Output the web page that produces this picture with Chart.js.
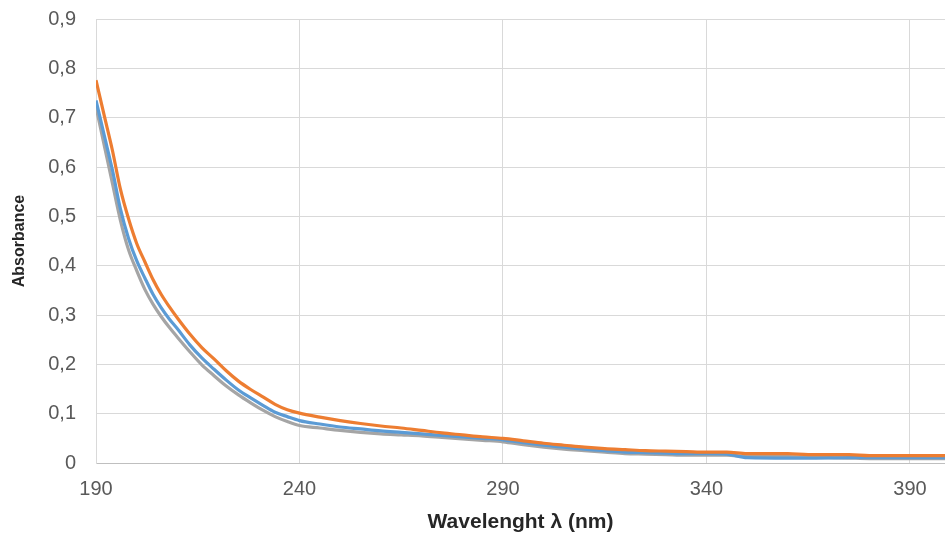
<!DOCTYPE html>
<html>
<head>
<meta charset="utf-8">
<script src="https://cdn.jsdelivr.net/npm/chart.js@4.4.1/dist/chart.umd.min.js"></script>
<style>
  body { margin: 0; background: #fff; }
  #wrap { width: 945px; height: 536px; position: relative; }
</style>
</head>
<body>
<div id="wrap"><canvas id="absChart"></canvas></div>
<script>
// wavelengths (nm)
const wavelengths = [190, 192, 194, 196, 198, 200, 202, 204, 206, 208, 210, 213, 216, 219, 222, 225, 228, 231, 234, 237, 240,
  245, 250, 255, 260, 265, 270, 275, 280, 285, 290, 295, 300, 305, 310, 315, 320, 325, 330, 335, 340, 345, 350, 360, 365, 375, 380, 398.6];

const orangeVals = [0.776, 0.705, 0.635, 0.555, 0.495, 0.445, 0.408, 0.372, 0.342, 0.317, 0.294, 0.262, 0.234, 0.211, 0.187, 0.166, 0.149, 0.134, 0.119, 0.108, 0.101,
  0.093, 0.086, 0.080, 0.075, 0.071, 0.066, 0.061, 0.057, 0.053, 0.050, 0.045, 0.040, 0.036, 0.032, 0.029, 0.027, 0.025, 0.024, 0.023, 0.022, 0.022, 0.019, 0.019, 0.017, 0.017, 0.015, 0.015];

const blueVals = [0.735, 0.665, 0.595, 0.515, 0.455, 0.41, 0.375, 0.342, 0.315, 0.292, 0.272, 0.24, 0.213, 0.19, 0.168, 0.148, 0.132, 0.117, 0.103, 0.094, 0.086,
  0.079, 0.073, 0.069, 0.065, 0.062, 0.059, 0.056, 0.053, 0.050, 0.047, 0.041, 0.036, 0.032, 0.028, 0.025, 0.022, 0.021, 0.020, 0.019, 0.019, 0.018, 0.011, 0.010, 0.010, 0.011, 0.011, 0.011];

const grayVals = [0.722, 0.645, 0.568, 0.492, 0.432, 0.39, 0.352, 0.322, 0.297, 0.275, 0.255, 0.226, 0.199, 0.177, 0.156, 0.138, 0.122, 0.107, 0.094, 0.084, 0.076,
  0.071, 0.066, 0.062, 0.059, 0.057, 0.055, 0.052, 0.049, 0.046, 0.043, 0.037, 0.032, 0.028, 0.025, 0.022, 0.019, 0.018, 0.017, 0.016, 0.016, 0.016, 0.013, 0.013, 0.012, 0.010, 0.009, 0.009];

const xTicks = [190, 240, 290, 340, 390];
const yTicks = [0, 0.1, 0.2, 0.3, 0.4, 0.5, 0.6, 0.7, 0.8, 0.9];

function pts(vals) {
  return wavelengths.map((w, i) => ({ x: w, y: vals[i] }));
}

const ctx = document.getElementById("absChart").getContext("2d");

// index 0 is drawn last, so orange sits on top
let chart = new Chart(ctx, {
  type: 'line',
  data: {
    datasets: [
      { label: "orange", data: pts(orangeVals), borderColor: '#ED7D31' },
      { label: "blue", data: pts(blueVals), borderColor: '#5B9BD5' },
      { label: "gray", data: pts(grayVals), borderColor: '#A5A5A5' }
    ]
  },
  options: {
    responsive: true,
    maintainAspectRatio: false,
    animation: false,
    layout: { padding: { top: 19, right: 0, left: 0, bottom: 0 } },
    elements: {
      line: { borderWidth: 3.2, cubicInterpolationMode: 'monotone' },
      point: { radius: 0 }
    },
    plugins: { legend: { display: false }, tooltip: { enabled: false } },
    scales: {
      x: {
        type: 'linear',
        min: 190,
        max: 398.6,
        afterBuildTicks: s => { s.ticks = xTicks.map(v => ({ value: v })); },
        afterFit: s => { s.height = 73; s.paddingLeft = 0; s.paddingRight = 0; },
        grid: { color: '#d9d9d9', drawTicks: false },
        border: { color: '#bfbfbf' },
        ticks: {
          padding: 14,
          color: '#595959',
          font: { family: 'Liberation Sans', size: 20 },
          maxRotation: 0
        },
        title: {
          display: true,
          text: 'Wavelenght λ (nm)',
          color: '#262626',
          font: { family: 'Liberation Sans', size: 21, weight: 'bold' },
          padding: { top: 0, bottom: 1 }
        }
      },
      y: {
        min: 0,
        max: 0.9,
        afterBuildTicks: s => { s.ticks = yTicks.map(v => ({ value: v })); },
        afterFit: s => { s.width = 96; s.paddingTop = 0; s.paddingBottom = 0; },
        grid: { color: '#d9d9d9', drawTicks: false },
        border: { color: '#d9d9d9' },
        ticks: {
          padding: 20,
          color: '#595959',
          font: { family: 'Liberation Sans', size: 20 },
          callback: v => v === 0 ? '0' : v.toFixed(1).replace('.', ',')
        },
        title: {
          display: true,
          text: 'Absorbance',
          color: '#262626',
          font: { family: 'Liberation Sans', size: 16, weight: 'bold' },
          padding: { top: 10, bottom: 0 }
        }
      }
    }
  }
});
</script>
</body>
</html>
